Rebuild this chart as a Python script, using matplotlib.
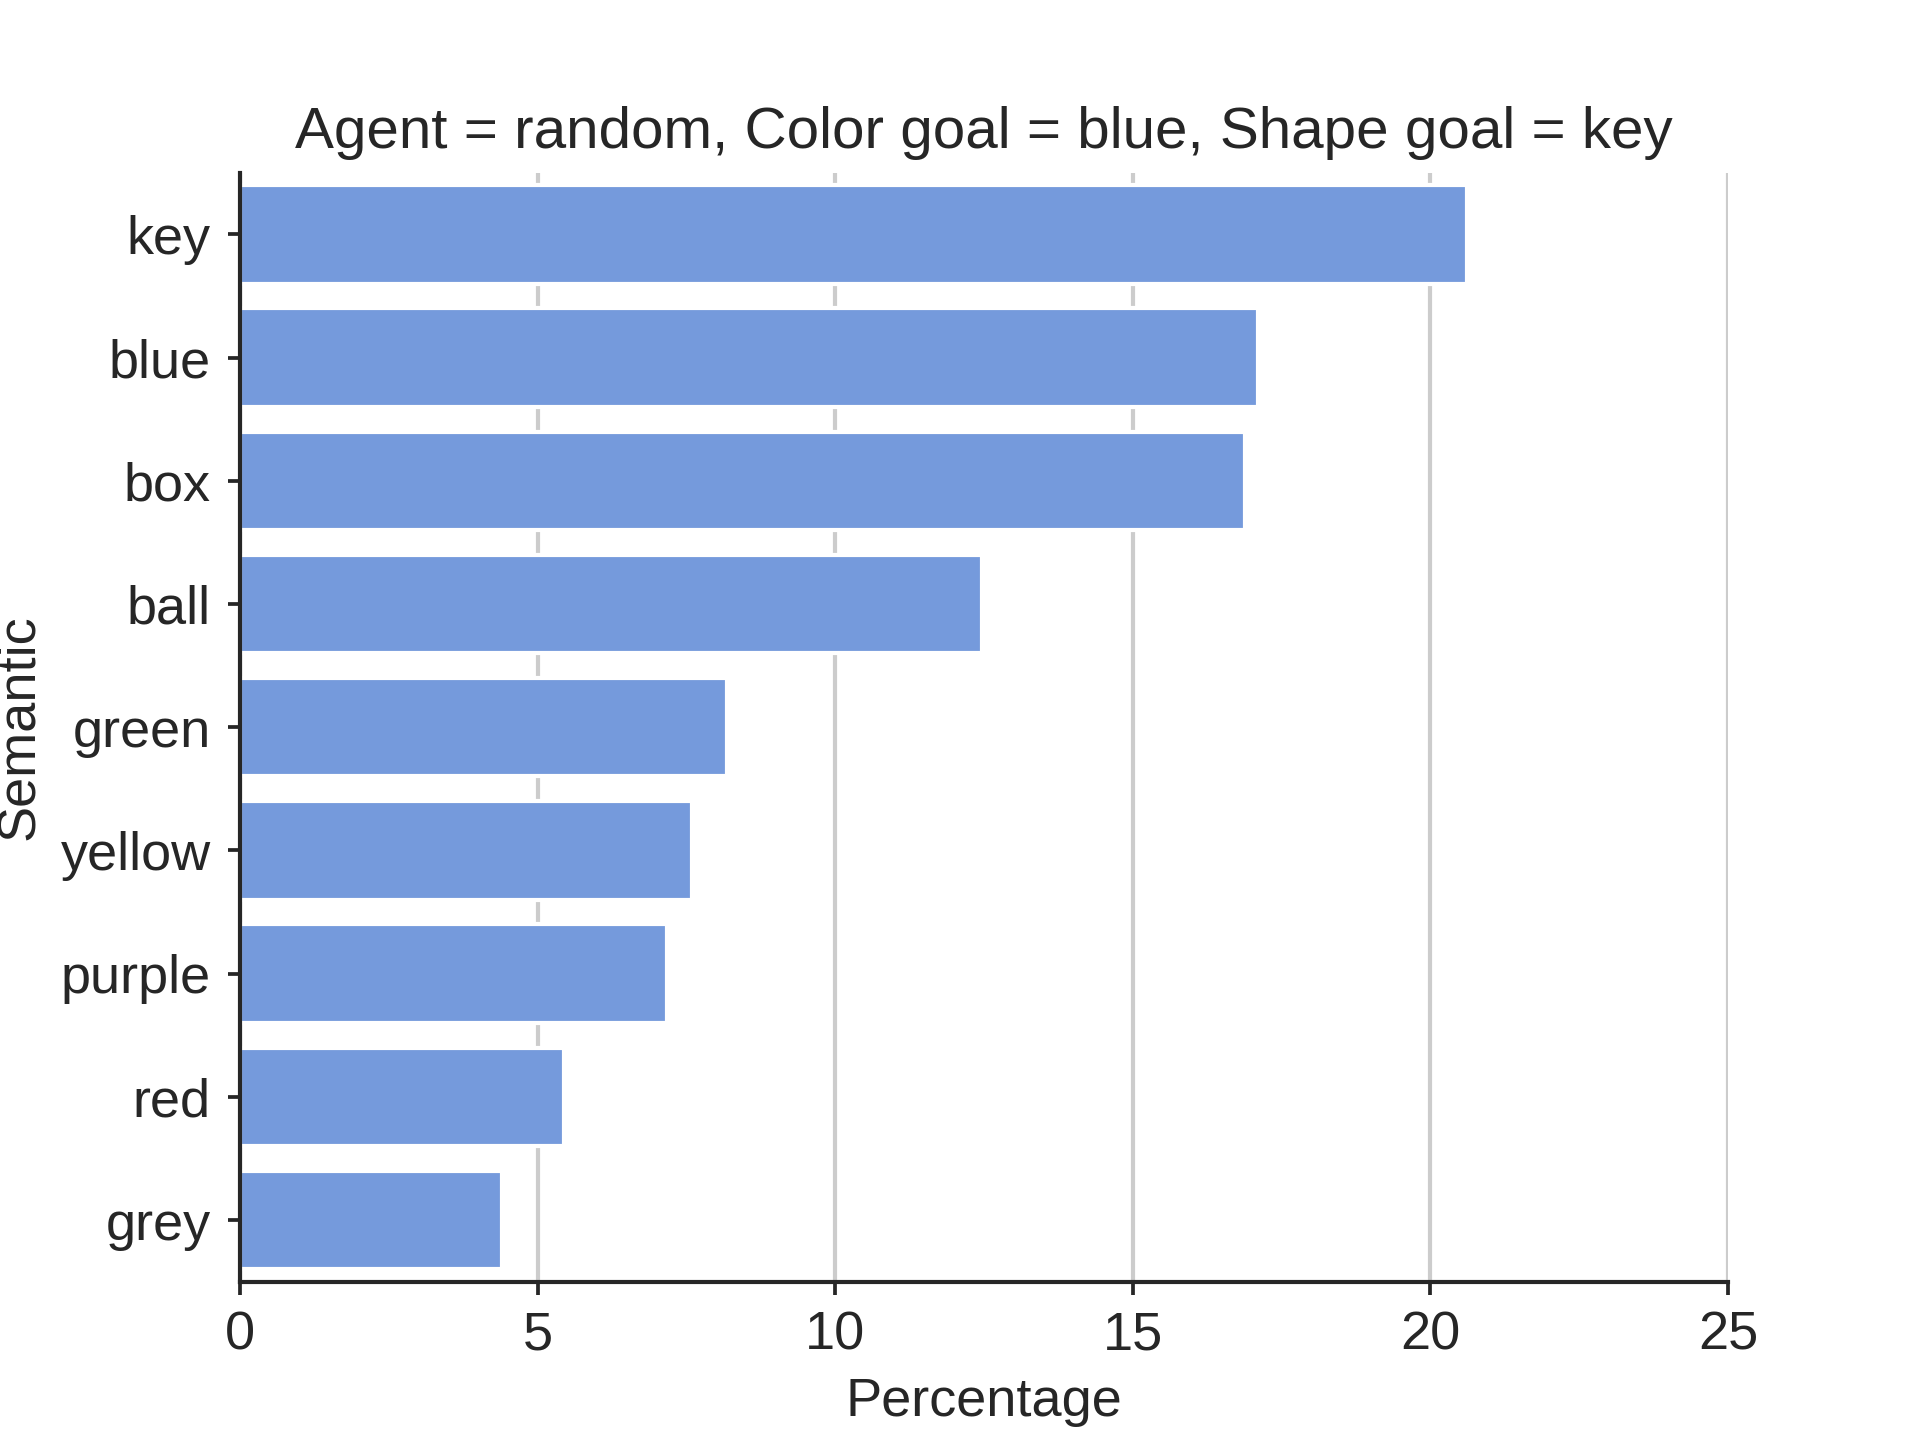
import matplotlib
matplotlib.use("Agg")
import matplotlib.pyplot as plt
import seaborn as sns
import pandas as pd

# values
semantic = ["key", "blue", "box", "ball", "green", "yellow", "purple", "red", "grey"]
percentage = [20.61, 17.11, 16.89, 12.46, 8.18, 7.60, 7.17, 5.44, 4.41]

sns.set_theme(style="ticks", rc={
    "axes.grid": True, "axes.grid.axis": "x",
    "axes.linewidth": 1.0,
    "xtick.major.size": 3.0, "ytick.major.size": 3.0,
    "xtick.major.width": 0.9, "ytick.major.width": 0.9,
    "xtick.major.pad": 4, "ytick.major.pad": 4,
    "xtick.labelsize": 13, "ytick.labelsize": 13,
    "axes.labelsize": 13, "axes.titlesize": 14,
})
plt.rcParams["font.family"] = ["Liberation Sans", "DejaVu Sans"]

df = pd.DataFrame({"Semantic": semantic, "Percentage": percentage})

fig, ax = plt.subplots(figsize=(6.4, 4.8), dpi=300)
sns.barplot(data=df, x="Percentage", y="Semantic", color="cornflowerblue", ax=ax)
ax.set_axisbelow(True)
ax.set_xlim(0, 25)
ax.set_xticks([0, 5, 10, 15, 20, 25])
ax.set_title("Agent = random, Color goal = blue, Shape goal = key")
sns.despine(ax=ax)

fig.savefig("out.png", dpi=300)
